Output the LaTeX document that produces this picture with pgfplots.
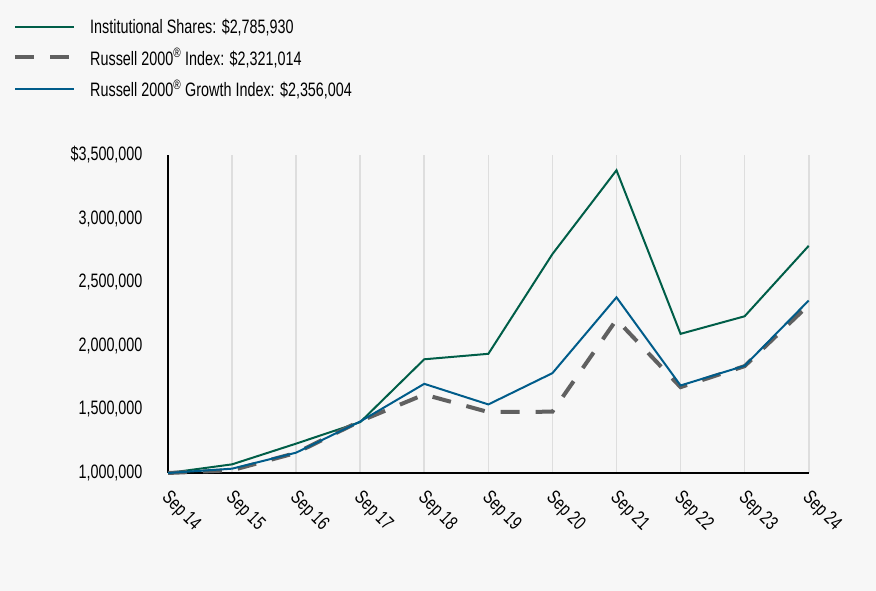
\documentclass[border=0pt]{standalone}
\usepackage{pgfplots}
\pgfplotsset{compat=1.18}
\usepackage{fontspec}
\setmainfont[FakeStretch=0.74]{Liberation Sans}
\definecolor{bg}{RGB}{247,247,247}
\definecolor{grn}{RGB}{0,94,72}
\definecolor{blu}{RGB}{0,92,138}
\definecolor{gry}{RGB}{96,96,96}
\definecolor{grd}{RGB}{222,222,222}
\begin{document}
\begin{tikzpicture}
\fill[bg] (0,0) rectangle (876bp,591bp);
\begin{axis}[
  at={(168bp,118bp)}, anchor=south west,
  scale only axis, width=640.7bp, height=318bp,
  xmin=0, xmax=10, ymin=1000000, ymax=3500000,
  scaled y ticks=false,
  axis x line*=bottom, axis y line*=left,
  axis line style={black, line width=1.6bp, -},
  xtick={0,...,10},
  xticklabels={Sep 14,Sep 15,Sep 16,Sep 17,Sep 18,Sep 19,Sep 20,Sep 21,Sep 22,Sep 23,Sep 24},
  ytick={1000000,1500000,2000000,2500000,3000000,3500000},
  yticklabels={{1,000,000},{1,500,000},{2,000,000},{2,500,000},{3,000,000},{\$3,500,000}},
  /pgf/number format/assume math mode=true,
  major tick length=0pt,
  xmajorgrids, major grid style={grd, line width=1.6bp},
  ticklabel style={font=\fontsize{19.5}{22}\selectfont, text=black},
  yticklabel style={anchor=east, xshift=-22bp},
  xticklabel style={xshift=3bp, yshift=-16bp, rotate=-45, anchor=north west, inner sep=0pt},
  legend style={at={(-0.2466,1.44)}, anchor=north west, draw=none, fill=none,
    font=\fontsize{19.5}{22}\selectfont, row sep=9bp, legend cell align=left,
    nodes={inner xsep=14bp}},
  legend image code/.code={\draw[#1] (0bp,0bp) -- (59bp,0bp);},
  clip=false,
]
\addplot[grn, line width=2bp] coordinates {
(0,1000000) (1,1068000) (2,1231000) (3,1400000) (4,1894000) (5,1937000)
(6,2721000) (7,3380000) (8,2094000) (9,2232000) (10,2785930)};
\addlegendentry{Institutional Shares: \$2,785,930}
\addplot[gry, line width=4bp, dash pattern=on 19bp off 16bp] coordinates {
(0,1000000) (1,1022000) (2,1158000) (3,1408000) (4,1617000) (5,1479000)
(6,1482000) (7,2206000) (8,1675000) (9,1840000) (10,2321014)};
\addlegendentry{Russell 2000\textsuperscript{®} Index: \$2,321,014}
\addplot[blu, line width=2bp] coordinates {
(0,1000000) (1,1034000) (2,1160000) (3,1405000) (4,1701000) (5,1539000)
(6,1785000) (7,2381000) (8,1688000) (9,1843000) (10,2356004)};
\addlegendentry{Russell 2000\textsuperscript{®} Growth Index: \$2,356,004}
\end{axis}
\end{tikzpicture}
\end{document}
